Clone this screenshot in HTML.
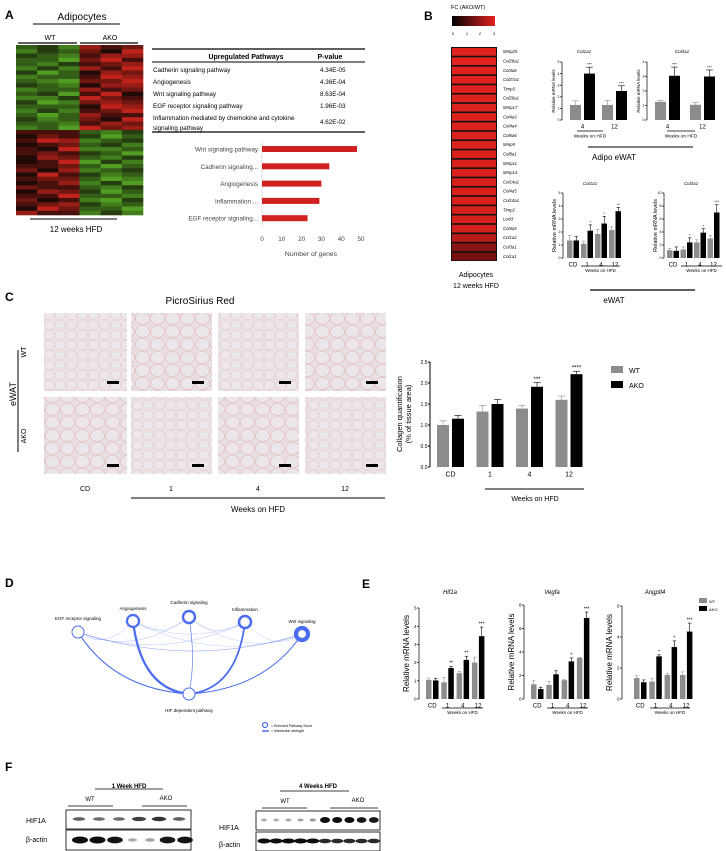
<!DOCTYPE html>
<html><head><meta charset="utf-8"><style>
html,body{margin:0;padding:0;background:#fff;}
svg{display:block;font-family:"Liberation Sans",sans-serif;}
</style></head><body>
<svg id="fig" width="726" height="851" viewBox="0 0 726 851" xmlns="http://www.w3.org/2000/svg">
<defs>
<pattern id="cells" width="11" height="10" patternUnits="userSpaceOnUse">
<rect width="11" height="10" fill="#e9e2e3"/>
<ellipse cx="5.5" cy="5" rx="5.1" ry="4.6" fill="#ece8e9" stroke="#e8c3ca" stroke-width="0.5"/>
</pattern>
<pattern id="cells2" width="15" height="13" patternUnits="userSpaceOnUse">
<rect width="15" height="13" fill="#e7dfe0"/>
<ellipse cx="7.5" cy="6.5" rx="7" ry="6" fill="#ebe7e8" stroke="#e6b6bf" stroke-width="0.6"/>
</pattern>
<linearGradient id="fcgrad" x1="0" x2="1" y1="0" y2="0">
<stop offset="0" stop-color="#000"/><stop offset="1" stop-color="#e52222"/>
</linearGradient>
</defs>

<text x="5" y="19" font-size="12" font-weight="bold">A</text>
<text x="82" y="20" font-size="10" text-anchor="middle">Adipocytes</text>
<line x1="33" y1="24" x2="120" y2="24" stroke="#000" stroke-width="1"/>
<text x="50" y="40" font-size="7" text-anchor="middle">WT</text>
<text x="110" y="40" font-size="7" text-anchor="middle">AKO</text>
<line x1="18" y1="43" x2="77" y2="43" stroke="#000" stroke-width="1.2"/>
<line x1="80" y1="43" x2="138" y2="43" stroke="#000" stroke-width="1.2"/>
<g id="heatA"></g>
<line x1="30" y1="219" x2="117" y2="219" stroke="#000" stroke-width="1"/>
<text x="76" y="232" font-size="8" text-anchor="middle">12 weeks HFD</text>

<g font-size="6.3">
<line x1="152" y1="49" x2="365" y2="49" stroke="#000" stroke-width="1.3"/>
<text x="246" y="59" font-weight="bold" font-size="7" text-anchor="middle">Upregulated Pathways</text>
<text x="330" y="59" font-weight="bold" font-size="7" text-anchor="middle">P-value</text>
<line x1="152" y1="62" x2="365" y2="62" stroke="#000" stroke-width="1"/>
<text x="153" y="72">Cadherin signaling pathway</text><text x="320" y="72">4.34E-05</text>
<text x="153" y="84">Angiogenesis</text><text x="320" y="84">4.36E-04</text>
<text x="153" y="96">Wnt signaling pathway</text><text x="320" y="96">8.63E-04</text>
<text x="153" y="108">EGF receptor signaling pathway</text><text x="320" y="108">1.96E-03</text>
<text x="153" y="120">Inflammation mediated by chemokine and cytokine</text><text x="320" y="124">4.62E-02</text>
<text x="153" y="130">signaling pathway</text>
<line x1="152" y1="132" x2="365" y2="132" stroke="#000" stroke-width="1.3"/>
</g>
<g id="barA"></g>

<text x="424" y="20" font-size="12" font-weight="bold">B</text>
<text x="451" y="9" font-size="5.5">FC (AKO/WT)</text>
<rect x="452" y="16" width="43" height="10" fill="url(#fcgrad)"/>
<g font-size="4" text-anchor="middle">
<text x="453" y="35">0</text><text x="467" y="35">1</text><text x="480" y="35">2</text><text x="494" y="35">3</text></g>
<g id="heatB"></g>
<text x="476" y="277" font-size="7" text-anchor="middle">Adipocytes</text>
<text x="476" y="288" font-size="7" text-anchor="middle">12 weeks HFD</text>
<g id="bCharts"></g>
<line x1="588" y1="147" x2="693" y2="147" stroke="#000" stroke-width="1"/>
<text x="614" y="160" font-size="8" text-anchor="middle">Adipo eWAT</text>
<line x1="590" y1="290" x2="695" y2="290" stroke="#000" stroke-width="1.2"/>
<text x="614" y="303" font-size="8" text-anchor="middle">eWAT</text>

<text x="5" y="301" font-size="12" font-weight="bold">C</text>
<text x="200" y="304" font-size="10" text-anchor="middle">PicroSirius Red</text>
<g id="micro"></g>
<text transform="translate(16,394) rotate(-90)" font-size="9" text-anchor="middle">eWAT</text>
<line x1="18" y1="350" x2="18" y2="452" stroke="#000" stroke-width="1"/>
<text transform="translate(26,352) rotate(-90)" font-size="7" text-anchor="middle">WT</text>
<text transform="translate(26,436) rotate(-90)" font-size="7" text-anchor="middle">AKO</text>
<g font-size="7" text-anchor="middle">
<text x="85" y="491">CD</text><text x="171" y="491">1</text><text x="258" y="491">4</text><text x="345" y="491">12</text></g>
<line x1="131" y1="498" x2="385" y2="498" stroke="#000" stroke-width="1"/>
<text x="258" y="512" font-size="8" text-anchor="middle">Weeks on HFD</text>
<g id="cChart"></g>
<rect x="611" y="366" width="12" height="7" fill="#8c8c8c"/>
<text x="629" y="373" font-size="7">WT</text>
<rect x="611" y="381" width="12" height="7" fill="#000"/>
<text x="629" y="388" font-size="7">AKO</text>

<text x="5" y="587" font-size="12" font-weight="bold">D</text>
<g id="net"></g>
<circle cx="265" cy="725" r="2.5" fill="none" stroke="#4a6cf0" stroke-width="1.2"/>
<text x="271" y="727" font-size="3.5">= Enriched Pathway Score</text>
<line x1="262" y1="731" x2="269" y2="731" stroke="#4a6cf0" stroke-width="1.5"/>
<text x="271" y="732" font-size="3.5">= Interaction strength</text>

<text x="362" y="588" font-size="12" font-weight="bold">E</text>
<g id="eCharts"></g>
<rect x="699" y="598" width="8" height="5" fill="#8c8c8c"/>
<text x="709" y="603" font-size="4">WT</text>
<rect x="699" y="606" width="8" height="5" fill="#000"/>
<text x="709" y="611" font-size="4">AKO</text>

<text x="5" y="771" font-size="12" font-weight="bold">F</text>
<g>
<text x="129" y="788" font-size="6" font-weight="bold" text-anchor="middle">1 Week HFD</text>
<line x1="95" y1="789" x2="163" y2="789" stroke="#000" stroke-width="0.8"/>
<text x="90" y="801" font-size="6" text-anchor="middle">WT</text>
<text x="166" y="800" font-size="6" text-anchor="middle">AKO</text>
<line x1="68" y1="806" x2="113" y2="806" stroke="#000" stroke-width="0.8"/>
<line x1="142" y1="806" x2="187" y2="806" stroke="#000" stroke-width="0.8"/>
<text x="26" y="823" font-size="7">HIF1A</text>
<text x="26" y="842" font-size="7">β-actin</text>
<rect x="66" y="810" width="125" height="19" fill="#fff" stroke="#000" stroke-width="0.8"/>
<rect x="66" y="830" width="125" height="20" fill="#fff" stroke="#000" stroke-width="0.8"/>
<g id="blot1"></g>
</g>
<g>
<text x="318" y="788" font-size="6" font-weight="bold" text-anchor="middle">4 Weeks HFD</text>
<line x1="280" y1="791" x2="349" y2="791" stroke="#000" stroke-width="0.8"/>
<text x="285" y="803" font-size="6" text-anchor="middle">WT</text>
<text x="358" y="802" font-size="6" text-anchor="middle">AKO</text>
<line x1="262" y1="808" x2="307" y2="808" stroke="#000" stroke-width="0.8"/>
<line x1="330" y1="808" x2="378" y2="808" stroke="#000" stroke-width="0.8"/>
<text x="219" y="830" font-size="7">HIF1A</text>
<text x="219" y="847" font-size="7">β-actin</text>
<rect x="256" y="811" width="124" height="19" fill="#fff" stroke="#000" stroke-width="0.8"/>
<rect x="256" y="832" width="124" height="19" fill="#fff" stroke="#000" stroke-width="0.8"/>
<g id="blot2"></g>
</g>
</svg>
<script>
const NS = "http://www.w3.org/2000/svg";
const pathwayCats = ["Wnt signaling pathway","Cadherin signaling...","Angiogenesis","Inflammation ...","EGF receptor signaling..."];
const pathwayGenes = [48, 34, 30, 29, 23];
const pathwayTicks = [0,10,20,30,40,50];

const heatARows = ["231867","132759","321688","220796","213678","131869","302587","122698","210779","321588",
"122867","230695","113976","301787","222598","131679","202866","312759","221687","120978",
"666213","576302","698123","567231","659112","676320","587213","569031","667202","758123",
"596312","677201","568130","766213","587302","669221","756103","678312","597220","866131"];

const heatBGenes = ["Mmp25","Col28a1","Col4a6","Col27a1","Timp3","Col28a1","Mmp17","Col4a3","Col4a4","Col6a6","Mmp9","Col8a1","Mmp11","Mmp14","Col14a1","Col4a5","Col14a1","Timp2","Loxl3","Col4a5","Col1a2","Col3a1","Col1a1"];
const heatBFC = [2.9,2.9,2.9,2.9,2.9,2.85,2.85,2.85,2.85,2.85,2.85,2.8,2.8,2.8,2.8,2.8,2.8,2.75,2.75,2.7,2.3,1.6,1.3];

const cats2 = ["4","12"];
const cats4 = ["CD","1","4","12"];
const adCol1Wt = [1.3,1.3], adCol1Ako = [4.0,2.5], adCol1WtE=[0.35,0.4], adCol1AkoE=[0.55,0.45], adCol1Stars=["***","***"];
const adCol3Wt = [1.25,1.05], adCol3Ako = [3.05,3.0], adCol3WtE=[0.1,0.15], adCol3AkoE=[0.6,0.45], adCol3Stars=["***","***"];
const ewCol1Wt = [1.35,1.1,1.85,2.15], ewCol1Ako=[1.35,2.1,2.65,3.6], ewCol1WtE=[0.4,0.2,0.35,0.25], ewCol1AkoE=[0.3,0.45,0.55,0.3], ewCol1Stars=["","*","*","**"];
const ewCol3Wt = [1.2,1.3,2.4,3.0], ewCol3Ako=[1.1,2.4,3.9,7.0], ewCol3WtE=[0.3,0.4,0.4,0.5], ewCol3AkoE=[0.6,0.7,0.6,1.2], ewCol3Stars=["","*","*","***"];
const collWt = [1.0,1.32,1.39,1.6], collAko=[1.15,1.5,1.91,2.21], collWtE=[0.1,0.15,0.08,0.09], collAkoE=[0.08,0.11,0.1,0.07], collStars=["","","***","****"];
const collTicks = [0,0.5,1.0,1.5,2.0,2.5];
const hifWt=[1.05,0.92,1.42,2.0], hifAko=[1.02,1.7,2.15,3.45], hifWtE=[0.1,0.25,0.1,0.3], hifAkoE=[0.12,0.1,0.2,0.5], hifStars=["","**","**","***"];
const vegWt=[1.25,1.2,1.6,3.5], vegAko=[0.85,2.1,3.2,6.9], vegWtE=[0.3,0.3,0.05,0.05], vegAkoE=[0.15,0.3,0.3,0.5], vegStars=["","","*","***"];
const angWt=[1.35,1.12,1.55,1.55], angAko=[1.08,2.75,3.35,4.35], angWtE=[0.15,0.2,0.1,0.2], angAkoE=[0.15,0.1,0.4,0.55], angStars=["","*","*","***"];

const netNodes = ["EGF receptor signaling","Angiogenesis","Cadherin signaling","Inflammation","Wnt signaling","HIF dependent pathway"];
const netScores = [1.0, 2.2, 2.4, 2.6, 4.2, 1.0];
const netEdges = [[0,5,2.2],[1,5,4.5],[2,5,1.2],[3,5,3.5],[4,5,2.0],[0,1,0.6],[0,2,0.6],[0,3,0.6],[0,4,0.6],[1,2,0.5],[1,3,0.5],[1,4,0.5],[2,3,0.5],[2,4,0.5],[3,4,0.5],[0,4,0.5]];

const blot1Hif = [0.55,0.5,0.5,0.75,0.8,0.55];
const blot1Actin = [1,1,0.95,0.15,0.2,0.95,0.95];
const blot2Hif = [0.15,0.15,0.18,0.2,0.25,1,1,1,0.95,0.95];
const blot2Actin = [1,1,1,1,1,0.85,0.85,0.85,0.85,0.85];

function mk(parent, tag, attrs){const e=document.createElementNS(NS,tag);for(const k in attrs)e.setAttribute(k,attrs[k]);parent.appendChild(e);return e;}
function tx(parent,x,y,s,size,extra){const e=mk(parent,'text',Object.assign({x:x,y:y,'font-size':size},extra||{}));e.textContent=s;return e;}

(function(){
  const g=document.getElementById('heatA');
  const x0=16, y0=45, w=127/6, h=170/heatARows.length;
  heatARows.forEach((row,r)=>{
    for(let c=0;c<6;c++){
      const d=+row[c]; let col;
      if(d<5){const t=(4-d)/4; col=`rgb(${Math.round(22+60*t)},${Math.round(28+130*t)},${Math.round(10+25*t)})`;}
      else {const t=(d-5)/4; col=`rgb(${Math.round(32+160*t)},${Math.round(10+25*t)},${Math.round(8+20*t)})`;}
      const rc=mk(g,'rect',{x:x0+c*w,y:y0+r*h,width:w+0.3,height:h+0.3,fill:col});
      
      
    }
  });
})();

(function(){
  const g=document.getElementById('barA');
  const ax=262, sx=v=>ax+v*1.98, y0=149, dy=17.3;
  mk(g,'line',{x1:ax,y1:141,x2:ax,y2:227,stroke:'#ccc','stroke-width':0.6});
  pathwayCats.forEach((c,i)=>{
    const y=y0+i*dy;
    const b=mk(g,'rect',{x:ax,y:y-3,width:sx(pathwayGenes[i])-ax,height:6,fill:'#d02020'});
    
    
    const t=tx(g,258,y+2.5,c,6.3,{'text-anchor':'end',fill:'#444'});
    
    
  });
  pathwayTicks.forEach(v=>{const t=tx(g,sx(v),241,String(v),6.3,{'text-anchor':'middle',fill:'#444'});
    
    });
  const xt=tx(g,311,256,'Number of genes',6.8,{'text-anchor':'middle',fill:'#444'});
  
  
})();

(function(){
  const g=document.getElementById('heatB');
  const x0=451,y0=47,w=46,h=214/heatBGenes.length;
  mk(g,'rect',{x:x0,y:y0,width:w,height:214,fill:'#111'});
  heatBGenes.forEach((gn,i)=>{
    const t=Math.min(heatBFC[i]/3,1);
    const col=`rgb(${Math.round(30+200*t)},${Math.round(5+30*t)},${Math.round(5+25*t)})`;
    const r=mk(g,'rect',{x:x0+1,y:y0+i*h+1,width:w-2,height:h-1.6,fill:col});
    
    
    const lab=tx(g,503,y0+i*h+h/2+1.5,gn,4.3,{'font-style':'italic'});
    
    
  });
})();

function barChart(gid,name,c,cats,wt,ako,wtE,akoE,stars){
  const g=mk(document.getElementById(gid),'g',{});
  
  
  const ys=v=>c.yb-v/c.max*(c.yb-c.yt);
  mk(g,'line',{x1:c.ax,y1:c.yt,x2:c.ax,y2:c.yb,stroke:'#000','stroke-width':c.lw||0.7});
  c.ticks.forEach(v=>{
    mk(g,'line',{x1:c.ax-2,y1:ys(v),x2:c.ax,y2:ys(v),stroke:'#000','stroke-width':c.lw||0.7});
    const t=tx(g,c.ax-2.5,ys(v)+c.tfs*0.35,c.tickFmt?c.tickFmt(v):String(v),c.tfs,{'text-anchor':'end'});
    
    
  });
  cats.forEach((cat,i)=>{
    const xw=c.x0+i*c.pitch, xa=xw+c.bw+c.gap;
    [[xw,wt[i],wtE[i],'#8c8c8c'],[xa,ako[i],akoE[i],'#000']].forEach((b,j)=>{
      const r=mk(g,'rect',{x:b[0],y:ys(b[1]),width:c.bw,height:c.yb-ys(b[1]),fill:b[3]});
      
      
      const cx=b[0]+c.bw/2, ye=ys(b[1]+b[2]);
      mk(g,'line',{x1:cx,y1:ys(b[1]),x2:cx,y2:ye,stroke:b[3],'stroke-width':0.6});
      mk(g,'line',{x1:cx-c.bw*0.3,y1:ye,x2:cx+c.bw*0.3,y2:ye,stroke:b[3],'stroke-width':0.6});
    });
    if(stars[i]){const s=tx(g,xa+c.bw/2,ys(ako[i]+akoE[i])-1.5,stars[i],c.sfs,{'text-anchor':'middle'});
      
      }
    const cl=tx(g,xw+c.bw+c.gap/2,c.yb+c.cfs+2.5,cat,c.cfs,{'text-anchor':'middle'});
    
    
  });
  if(c.title){const t=tx(g,c.titleX,c.titleY,c.title,c.titleFs,{'text-anchor':'middle','font-style':'italic'});
    
    }
  if(c.ylab){const t=tx(g,0,0,c.ylab,c.yfs,{'text-anchor':'middle',transform:`translate(${c.ylx},${(c.yt+c.yb)/2}) rotate(-90)`});
    
    }
  if(c.hfd){mk(g,'line',{x1:c.hfd[0],y1:c.hfd[2],x2:c.hfd[1],y2:c.hfd[2],stroke:'#000','stroke-width':0.8});
    const t=tx(g,(c.hfd[0]+c.hfd[1])/2,c.hfd[2]+c.hfd[3]+1.5,'Weeks on HFD',c.hfd[3],{'text-anchor':'middle'});
    
    }
}
barChart('bCharts','adipo-col1a1-chart',{ax:562,yt:62,yb:120,max:5,ticks:[0,1,2,3,4,5],tfs:3.5,x0:570,pitch:32,bw:11,gap:3,sfs:4,cfs:6,title:'Col1a1',titleX:584,titleY:53,titleFs:4.5,ylab:'Relative mRNA levels',yfs:4.5,ylx:555,hfd:[577,603,131,4.8]},cats2,adCol1Wt,adCol1Ako,adCol1WtE,adCol1AkoE,adCol1Stars);
barChart('bCharts','adipo-col3a1-chart',{ax:647,yt:62,yb:120,max:4,ticks:[0,1,2,3,4],tfs:3.5,x0:655,pitch:35,bw:11,gap:3,sfs:4,cfs:6,title:'Col3a1',titleX:682,titleY:53,titleFs:4.5,ylab:'Relative mRNA levels',yfs:4.5,ylx:640,hfd:[667,695,131,4.8]},cats2,adCol3Wt,adCol3Ako,adCol3WtE,adCol3AkoE,adCol3Stars);
barChart('bCharts','ewat-col1a1-chart',{ax:563,yt:193,yb:258,max:5,ticks:[0,1,2,3,4,5],tfs:3.5,x0:567,pitch:14,bw:5.5,gap:1,sfs:4,cfs:6,title:'Col1a1',titleX:590,titleY:185,titleFs:4.5,ylab:'Relative mRNA levels',yfs:5.5,ylx:556,hfd:[581,620,266,4.5]},cats4,ewCol1Wt,ewCol1Ako,ewCol1WtE,ewCol1AkoE,ewCol1Stars);
barChart('bCharts','ewat-col3a1-chart',{ax:664,yt:193,yb:258,max:10,ticks:[0,2,4,6,8,10],tfs:3.5,x0:667,pitch:13.5,bw:5.5,gap:1,sfs:4,cfs:6,title:'Col3a1',titleX:691,titleY:185,titleFs:4.5,ylab:'Relative mRNA levels',yfs:5.5,ylx:657,hfd:[681,722,266,4.5]},cats4,ewCol3Wt,ewCol3Ako,ewCol3WtE,ewCol3AkoE,ewCol3Stars);
barChart('cChart','collagen-quantification-chart',{ax:430,yt:362,yb:467,max:2.5,ticks:collTicks,tickFmt:v=>v.toFixed(1),tfs:5,lw:1,x0:437,pitch:39.5,bw:12,gap:3,sfs:6,cfs:7,ylab:'',yfs:7},cats4,collWt,collAko,collWtE,collAkoE,collStars);
(function(){const g=document.getElementById('cChart');
  const t1=tx(g,0,0,'Collagen quantification',7.5,{'text-anchor':'middle',transform:'translate(402,414) rotate(-90)'});
  
  
  const t2=tx(g,0,0,'(% of tissue area)',7.5,{'text-anchor':'middle',transform:'translate(411,414) rotate(-90)'});
  
  
  mk(g,'line',{x1:485,y1:489,x2:584,y2:489,stroke:'#000','stroke-width':1});
  const t3=tx(g,535,501,'Weeks on HFD',7,{'text-anchor':'middle'});
  
  
})();
barChart('eCharts','hif1a-chart',{ax:419,yt:608,yb:699,max:5,ticks:[0,1,2,3,4,5],tfs:4.5,x0:426,pitch:15.3,bw:5.5,gap:1.5,sfs:5,cfs:6,title:'Hif1a',titleX:450,titleY:594,titleFs:6,ylab:'Relative mRNA levels',yfs:8,ylx:409,hfd:[442,483,708,4.5]},cats4,hifWt,hifAko,hifWtE,hifAkoE,hifStars);
barChart('eCharts','vegfa-chart',{ax:524,yt:605,yb:699,max:8,ticks:[0,2,4,6,8],tfs:4.5,x0:531,pitch:15.3,bw:5.5,gap:1.5,sfs:5,cfs:6,title:'Vegfa',titleX:552,titleY:594,titleFs:6,ylab:'Relative mRNA levels',yfs:8,ylx:514,hfd:[547,588,708,4.5]},cats4,vegWt,vegAko,vegWtE,vegAkoE,vegStars);
barChart('eCharts','angptl4-chart',{ax:622,yt:606,yb:699,max:6,ticks:[0,2,4,6],tfs:4.5,x0:634,pitch:15.3,bw:5.5,gap:1.5,sfs:5,cfs:6,title:'Angptl4',titleX:655,titleY:594,titleFs:6,ylab:'Relative mRNA levels',yfs:8,ylx:612,hfd:[650,690,708,4.5]},cats4,angWt,angAko,angWtE,angAkoE,angStars);

(function(){
  const g=document.getElementById('micro');
  const xs=[[44,83],[131,81],[218,81],[305,81]], ys=[[313,78],[397,77]];
  ys.forEach((yy,r)=>xs.forEach((xx,c)=>{
    const im=mk(g,'rect',{x:xx[0],y:yy[0],width:xx[1],height:yy[1],fill:(c+r)%2?'url(#cells2)':'url(#cells)'});
    
    
    mk(g,'rect',{x:xx[0]+xx[1]-20,y:yy[0]+yy[1]-10,width:12,height:3,fill:'#000'});
  }));
})();

(function(){
  const g=document.getElementById('net');
  const pos=[[78,632],[133,621],[189,617],[245,622],[302,634],[189,694]];
  const lab=[[78,620],[133,610],[189,604],[245,611],[302,623],[189,712]];
  netEdges.forEach(e=>{
    const a=pos[e[0]],b=pos[e[1]];
    let cx,cy;
    if(e[1]===5){cx=(a[0]+b[0])/2+(a[0]<b[0]?-20:20);cy=b[1]-5;if(e[0]===2){cx=196;cy=660;}}
    else {cx=(a[0]+b[0])/2;cy=Math.max(a[1],b[1])+15+Math.abs(e[0]-e[1])*5;}
    const p=mk(g,'path',{d:`M${a[0]},${a[1]} Q${cx},${cy} ${b[0]},${b[1]}`,fill:'none',stroke:'#4a6cf0','stroke-width':e[2]*0.5,opacity:e[2]>1?1:0.7});
    
    
  });
  netNodes.forEach((n,i)=>{
    const c=mk(g,'circle',{cx:pos[i][0],cy:pos[i][1],r:6,fill:'#fff',stroke:'#4a6cf0','stroke-width':netScores[i]});
    
    
    const t=tx(g,lab[i][0],lab[i][1],n,4.5,{'text-anchor':'middle'});
    
    
  });
})();

function blot(gid,arr,x0,pitch,y,bw,h){
  const g=document.getElementById(gid);
  arr.forEach((v,i)=>{
    const e=mk(g,'ellipse',{cx:x0+i*pitch,cy:y,rx:bw*(0.5+0.5*v),ry:h*(0.4+0.6*v),fill:`rgba(0,0,0,${0.2+0.75*v})`});
    
    
  });
}
blot('blot1',blot1Hif,79,20,819,8,2.5);
blot('blot1',blot1Actin,80,17.5,840,8,3.5);
blot('blot2',blot2Hif,264,12.2,820,5,3);
blot('blot2',blot2Actin,264,12.2,841,6.5,2.5);
</script>
</body></html>
